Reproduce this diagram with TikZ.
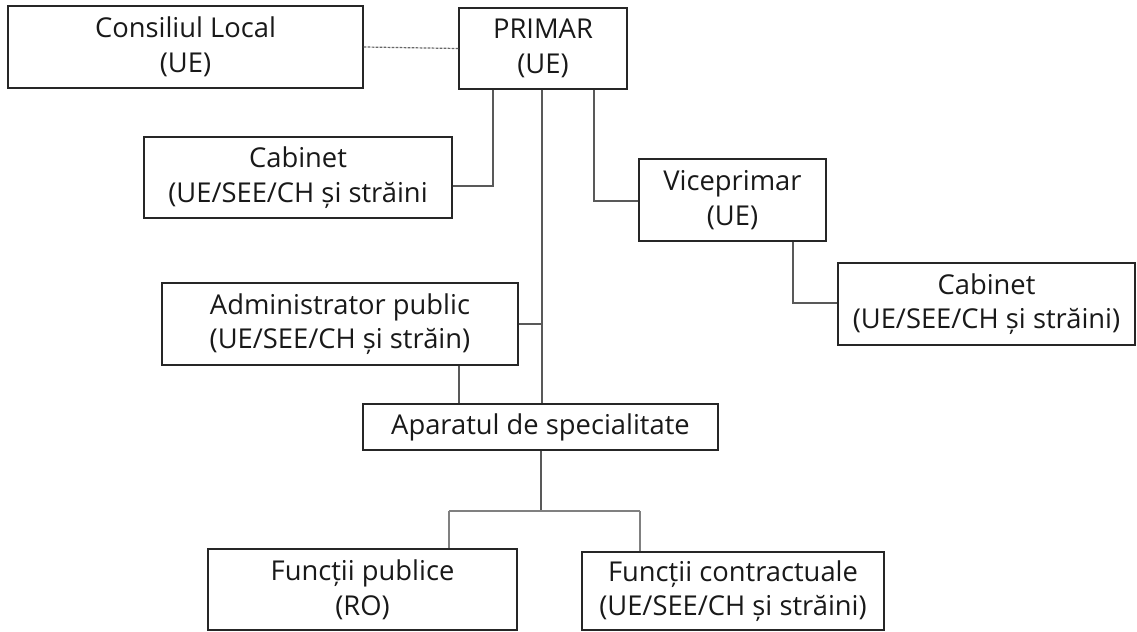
\documentclass[tikz,border=0pt]{standalone}
\usepackage{fontspec}
\setmainfont{Open Sans}
\begin{document}
\begin{tikzpicture}[x=0.75pt,y=-0.75pt,
  bx/.style 2 args={draw=black!85, line width=1.1pt, inner sep=0pt, align=center,
     minimum width=#1*0.75pt, minimum height=#2*0.75pt,
     font=\fontsize{20.5}{26}\selectfont, text=black!90},
  link/.style={draw=black!65, line width=0.8pt},
  link2/.style={draw=black!50, line width=0.8pt},
  dotlink/.style={draw=black!60, line width=0.9pt, dash pattern=on 2pt off 1pt}]
\useasboundingbox (0,0) rectangle (1137,631);
\fill[white] (0,0) rectangle (1137,631);
% boxes
\node[bx={355}{82}] (cons) at (185.5,47) {Consiliul Local\\(UE)};
\node[bx={168}{81}] (primar) at (543,48.5) {PRIMAR\\(UE)};
\node[bx={308}{81}] (cab1) at (298,177.5) {Cabinet\\(UE/SEE/CH și străini};
\node[bx={187}{82}] (vice) at (732.5,200) {Viceprimar\\(UE)};
\node[bx={297}{82}] (cab2) at (986.5,304) {Cabinet\\(UE/SEE/CH și străini)};
\node[bx={356}{82}] (admin) at (340,324) {Administrator public\\(UE/SEE/CH și străin)};
\node[bx={355}{46}] (apar) at (540.5,427) {Aparatul de specialitate};
\node[bx={309}{81}] (fpub) at (362.5,589.5) {Funcții publice\\(RO)};
\node[bx={302}{78}] (fcon) at (733,591) {Funcții contractuale\\(UE/SEE/CH și străini)};
% junction coordinates
\coordinate (j1) at (493,186);
\coordinate (j2) at (542,324);
\coordinate (j3) at (594,201);
\coordinate (j4) at (793,303);
\coordinate (j5) at (459,380);
\coordinate (j6) at (541,511);
\coordinate (j7) at (449,511);
\coordinate (j8) at (640,511);
% connectors
\draw[dotlink] (cons.east) -- (primar.west);
\draw[link] (primar.south -| j1) -- (j1) -- (j1 -| cab1.east);
\draw[link] (primar.south -| j2) -- (apar.north -| j2);
\draw[link] (admin.east) -- (j2);
\draw[link] (primar.south -| j3) -- (j3) -- (j3 -| vice.west);
\draw[link] (vice.south -| j4) -- (j4) -- (j4 -| cab2.west);
\draw[link] (admin.south -| j5) -- (apar.north -| j5);
\draw[link] (apar.south -| j6) -- (j6);
\draw[link2] (j7) -- (j8);
\draw[link2] (j7) -- (fpub.north -| j7);
\draw[link2] (j8) -- (fcon.north -| j8);
\end{tikzpicture}
\end{document}
